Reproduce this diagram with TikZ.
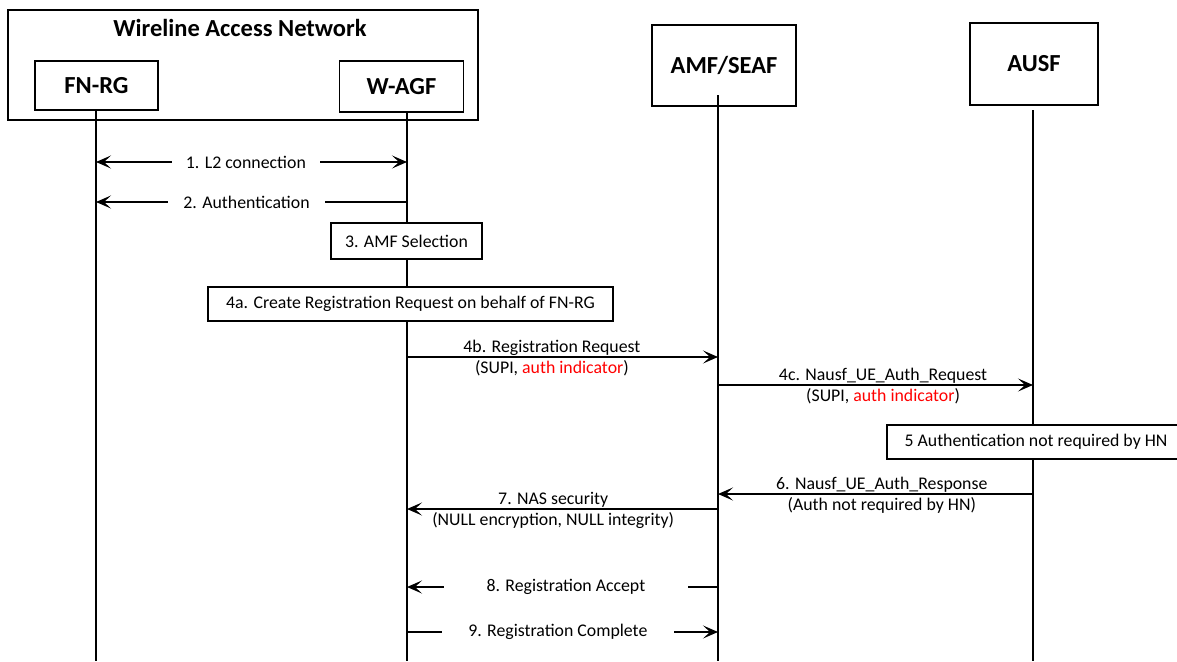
\documentclass[tikz,border=0pt]{standalone}
\usepackage{fontspec}
\setmainfont{Carlito}
\usetikzlibrary{arrows.meta,calc}
\definecolor{alertred}{HTML}{FF0000}

\begin{document}
\begin{tikzpicture}[x=1pt,y=-1pt,font=\fontsize{17.8}{21}\selectfont,
  >={Stealth[length=15pt,width=13pt,inset=7pt]},
  entity/.style={draw,line width=1.5pt,fill=white,inner sep=0pt,font=\fontsize{24.5}{28}\selectfont\bfseries},
  stepbox/.style={draw,line width=1.5pt,fill=white,inner sep=0pt},
  life/.style={line width=1.4pt},
  msg/.style={->,line width=1.5pt},
  gaplabel/.style={fill=white,inner xsep=0pt,inner ysep=1pt},
  twoline/.style={align=center,inner sep=0pt,yshift=-1pt}]
  \useasboundingbox (0,0) rectangle (1177,661);

  \node[draw,line width=1.5pt,minimum width=470pt,minimum height=110pt] (wan) at (243,65) {};
  \node[font=\fontsize{24.5}{28}\selectfont\bfseries] (wantitle) at (240,28) {Wireline Access Network};
  \node[entity,minimum width=123pt,minimum height=49pt] (fnrg) at (96.5,85.5) {FN-RG};
  \node[entity,minimum width=124pt,minimum height=51pt] (wagf) at (401.5,86.5) {W-AGF};
  \node[entity,minimum width=144pt,minimum height=81pt] (amf) at (724,65.5) {AMF/SEAF};
  \node[entity,minimum width=128pt,minimum height=82pt] (ausf) at (1034,64) {AUSF};

  \coordinate (fnrg-top) at (96,110);
  \coordinate (wagf-top) at (407,112);
  \coordinate (amf-top) at (718,95);
  \coordinate (ausf-top) at (1033,110);
  \coordinate (bottom) at (0,661);
  \draw[life] (fnrg-top) -- (fnrg-top |- bottom);
  \draw[life] (wagf-top) -- (wagf-top |- bottom);
  \draw[life] (amf-top) -- (amf-top |- bottom);
  \draw[life] (ausf-top) -- (ausf-top |- bottom);

  \node[stepbox,minimum width=151pt,minimum height=36pt] (amfsel) at (406.5,241) {3. AMF Selection};
  \node[stepbox,minimum width=405pt,minimum height=34pt] (create) at (410.5,304) {4a. Create Registration Request on behalf of FN-RG};
  \node[stepbox,minimum width=298pt,minimum height=34pt] (noauth) at (1036,442) {5 Authentication not required by HN};

  \coordinate (m1) at (0,162);
  \coordinate (m2) at (0,202);
  \coordinate (m4b) at (0,357);
  \coordinate (m4c) at (0,385);
  \coordinate (m6) at (0,494);
  \coordinate (m7) at (0,509);
  \coordinate (m8) at (0,587);
  \coordinate (m9) at (0,632);

  \draw[msg,<->] (fnrg-top |- m1) -- (wagf-top |- m1)
    node[gaplabel,minimum width=148pt,pos=0.482] (l2) {1. L2 connection};
  \draw[msg] (wagf-top |- m2) -- (fnrg-top |- m2)
    node[gaplabel,minimum width=157pt,pos=0.516] (authn) {2. Authentication};
  \draw[msg] (wagf-top |- m4b) -- (amf-top |- m4b)
    node[twoline,pos=0.466] (regreq) {4b. Registration Request\\(SUPI, \textcolor{alertred}{auth indicator})};
  \draw[msg] (amf-top |- m4c) -- (ausf-top |- m4c)
    node[twoline,pos=0.524] (authreq) {4c. Nausf\_UE\_Auth\_Request\\(SUPI, \textcolor{alertred}{auth indicator})};
  \draw[msg] (ausf-top |- m6) -- (amf-top |- m6)
    node[twoline,pos=0.48] (authresp) {6. Nausf\_UE\_Auth\_Response\\(Auth not required by HN)};
  \draw[msg] (amf-top |- m7) -- (wagf-top |- m7)
    node[twoline,pos=0.53] (nassec) {7. NAS security\\(NULL encryption, NULL integrity)};
  \draw[msg] (amf-top |- m8) -- (wagf-top |- m8)
    node[gaplabel,minimum width=244pt,pos=0.489] (regacc) {8. Registration Accept};
  \draw[msg] (wagf-top |- m9) -- (amf-top |- m9)
    node[gaplabel,minimum width=232pt,pos=0.485] (regcmp) {9. Registration Complete};
\end{tikzpicture}
\end{document}
